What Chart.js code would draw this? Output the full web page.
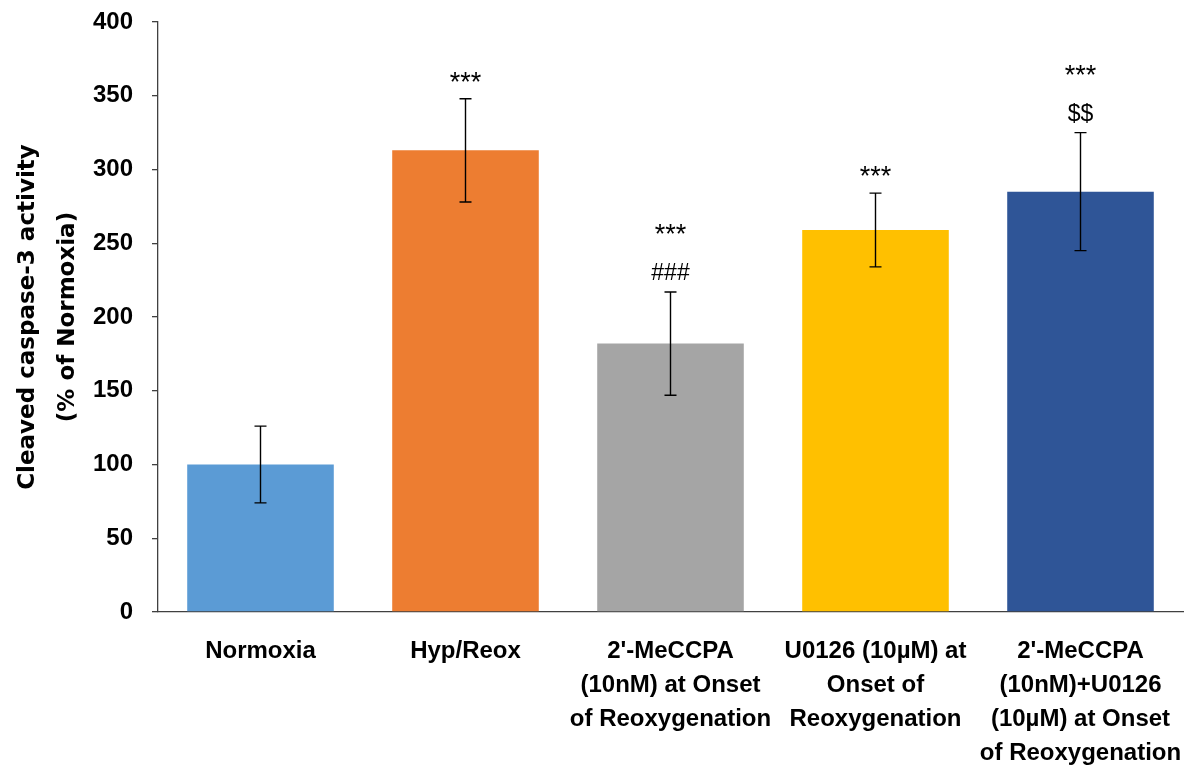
<!DOCTYPE html>
<html>
<head>
<meta charset="utf-8">
<script src="https://cdn.jsdelivr.net/npm/chart.js@4.4.1/dist/chart.umd.min.js"></script>
<style>
  html, body { margin: 0; padding: 0; background: #fff; }
  #wrap { width: 1190px; height: 765px; }
</style>
</head>
<body>
<div id="wrap"><canvas id="myChart" width="1190" height="765"></canvas></div>
<script>
// данные
const groupLabels = [
  ['Normoxia'],
  ['Hyp/Reox'],
  ["2'-MeCCPA", '(10nM) at Onset', 'of Reoxygenation'],
  ['U0126 (10µM) at', 'Onset of', 'Reoxygenation'],
  ["2'-MeCCPA", '(10nM)+U0126', '(10µM) at Onset', 'of Reoxygenation']
];
const caspaseMean = [100, 313, 182, 259, 285];
const caspaseErr = [26, 35, 35, 25, 40];
const barColors = ['#5B9BD5', '#ED7D31', '#A5A5A5', '#FFC000', '#2F5597'];
// значки над столбиками (снизу вверх)
const signifMarks = [[], ['***'], ['###', '***'], ['***'], ['$$', '***']];
const yTicks = [0, 50, 100, 150, 200, 250, 300, 350, 400];

// усы погрешности + значки
const errorBarsPlugin = {
  id: 'errorBars',
  afterDatasetsDraw(chart) {
    const ctx = chart.ctx;
    const yScale = chart.scales.y;
    const meta = chart.getDatasetMeta(0);
    ctx.save();
    meta.data.forEach((bar, i) => {
      let x = bar.x;
      let yTop = yScale.getPixelForValue(caspaseMean[i] + caspaseErr[i]);
      let yBot = yScale.getPixelForValue(caspaseMean[i] - caspaseErr[i]);
      ctx.strokeStyle = '#000';
      ctx.lineWidth = 1.4;
      ctx.beginPath();
      ctx.moveTo(x, yTop); ctx.lineTo(x, yBot);
      ctx.moveTo(x - 6, yTop); ctx.lineTo(x + 6, yTop);
      ctx.moveTo(x - 6, yBot); ctx.lineTo(x + 6, yBot);
      ctx.stroke();

      ctx.fillStyle = '#000';
      ctx.textAlign = 'center';
      ctx.textBaseline = 'alphabetic';
      signifMarks[i].forEach((txt, k) => {
        // звездочки чуть крупнее
        ctx.font = (txt === '***' ? '27px' : '23px') + ' "Liberation Sans", Arial, sans-serif';
        let yy = yTop - 12 - k * 37;
        if (txt === '***' && k === 0) yy += 4;
        ctx.fillText(txt, x, yy);
      });
    });
    ctx.restore();
  }
};

var ctx = document.getElementById('myChart').getContext('2d');
var myChart = new Chart(ctx, {
  type: 'bar',
  data: {
    labels: groupLabels,
    datasets: [{
      data: caspaseMean,
      backgroundColor: barColors,
      borderWidth: 0,
      barPercentage: 0.715,
      categoryPercentage: 1.0
    }]
  },
  options: {
    responsive: false,
    animation: false,
    devicePixelRatio: 1,
    layout: { padding: { left: 0, right: 7, top: 22, bottom: 0 } },
    plugins: {
      legend: { display: false },
      tooltip: { enabled: false }
    },
    scales: {
      x: {
        afterFit(scale) {
          scale.height = 153;
          scale.paddingLeft = 0; scale.paddingRight = 0;
        },
        grid: { display: false, drawTicks: false },
        border: { display: true, color: '#404040', width: 1.3 },
        ticks: {
          color: '#000',
          padding: 22,
          maxRotation: 0,
          autoSkip: false,
          font: { family: '"Liberation Sans", Arial, sans-serif', size: 24, weight: 'bold', lineHeight: 1.42 }
        }
      },
      y: {
        min: 0,
        max: 400,
        afterFit(scale) {
          scale.width = 158;
          scale.paddingTop = 0; scale.paddingBottom = 0;
        },
        afterBuildTicks(scale) { scale.ticks = yTicks.map(v => ({ value: v })); },
        grid: { drawOnChartArea: false, drawTicks: true, tickLength: 6, color: '#404040', lineWidth: 1.3 },
        border: { display: true, color: '#404040', width: 1.3 },
        ticks: {
          color: '#000',
          padding: 19,
          font: { family: '"Liberation Sans", Arial, sans-serif', size: 24, weight: 'bold' }
        },
        title: {
          display: true,
          text: ['Cleaved caspase-3 activity', '(% of Normoxia)'],
          color: '#000',
          padding: { top: 8, bottom: 0 },
          font: { family: '"DejaVu Sans", sans-serif', size: 23, weight: 'bold', lineHeight: 1.74 }
        }
      }
    }
  },
  plugins: [errorBarsPlugin]
});
</script>
</body>
</html>
